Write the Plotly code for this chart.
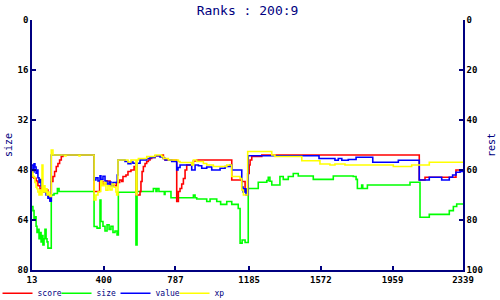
import plotly.graph_objects as go

# ---- data ----
x_ticks = [13, 400, 787, 1185, 1572, 1959, 2339]
size_ticks = [0, 16, 32, 48, 64, 80]
rest_ticks = [0, 20, 40, 60, 80, 100]

score_x = [13, 24, 35, 45, 56, 67, 78, 89, 99, 110, 117, 126, 135, 144, 153, 162, 171, 180,
           348, 378, 396, 412, 434, 456, 468, 486, 497, 504, 520, 531, 547, 564, 574, 596,
           601, 607, 614, 623, 632, 641, 650, 659, 677, 715, 722, 731, 794, 803, 812, 821,
           830, 839, 848, 875, 884, 902, 1091, 1145, 1163, 1172, 1177, 1185, 1190, 1199,
           1253, 2103, 2134, 2301, 2339]
score_y = [62.8, 63.3, 64.4, 66.3, 67.5, 67, 68.8, 68, 70.4, 72, 64.6, 62.6, 60.6, 58.6, 57.4, 56, 54.6, 54,
           68.6, 64.6, 65.6, 64.4, 66, 66.3, 65, 64, 64.6, 62.6, 62, 60.6, 60, 58.6, 70, 68.6,
           64.6, 60.6, 58.6, 57.4, 56.6, 56, 55.4, 55, 54.3, 54, 55.4, 56, 72.6, 68.6, 67.4, 65.6,
           63.4, 60, 58, 57.4, 56.4, 56, 64, 64.6, 68, 68.8, 61.4, 58, 56, 54.6,
           54, 64, 62.9, 60, 60]

size_x = [13, 18, 24, 29, 35, 40, 45, 51, 56, 62, 67, 72, 78, 83, 89, 94, 99, 117, 132, 150, 159,
          348, 364, 380, 385, 396, 407, 418, 429, 439, 450, 461, 472, 479, 574, 580, 668, 682,
          688, 698, 727, 731, 763, 884, 893, 902, 956, 974, 1010, 1031, 1064, 1091, 1126, 1136,
          1147, 1163, 1180, 1234, 1280, 1288, 1297, 1307, 1351, 1369, 1396, 1423, 1450, 1531,
          1639, 1747, 1762, 1769, 1792, 1798, 1823, 2053, 2107, 2157, 2265, 2287, 2305, 2339]
size_y = [59.7, 61, 64, 63, 66, 68, 67, 70, 68, 71, 69, 72, 70, 67, 70, 71, 73, 56, 55.5, 53.9, 54.9,
          66.1, 66.6, 57.6, 64.5, 66, 67.5, 65.5, 67, 66, 68, 67.5, 68.8, 55.1, 72, 54.9, 53.9, 54.9,
          53.9, 54.9, 55.8, 54.9, 56.9, 56, 56.9, 57.3, 58.1, 57.3, 58.1, 59, 58.1, 59, 60.3, 71.4,
          70.4, 71.2, 53.9, 51.9, 51.4, 50.3, 51.6, 52.8, 50.1, 51, 50.1, 49.1, 49.9, 51,
          49.9, 50.1, 51, 53.9, 52.8, 53.9, 52.8, 51.9, 63.1, 62.2, 61, 59.7, 58.9, 58.9]

value_x = [13, 18, 24, 29, 35, 40, 45, 51, 56, 62, 67, 72, 78, 83, 89, 94, 99, 105, 110, 117,
           348, 358, 369, 380, 385, 396, 407, 418, 429, 439, 450, 473, 477, 515, 531, 547, 558,
           574, 580, 596, 632, 650, 677, 704, 722, 731, 767, 794, 801, 812, 875, 893, 911, 929,
           956, 983, 1028, 1055, 1082, 1091, 1145, 1152, 1160, 1168, 1180, 1562, 1648, 1666,
           1685, 1720, 1762, 1852, 1990, 2103, 2157, 2224, 2265, 2283, 2301, 2323, 2339]
value_y = [58, 60.8, 57.5, 58.8, 61.3, 60, 63.1, 65, 63.8, 66.3, 67.5, 66.3, 68.8, 68, 70, 68.8, 71.3, 70.5, 72.5, 54,
           64, 63.1, 64.4, 62.3, 63.8, 62.5, 64.4, 65.6, 64.8, 66.3, 65, 62, 56, 56.6, 57.5, 56.8, 57.3,
           70, 57.3, 56, 55.4, 55, 54.3, 54.8, 55.4, 56, 56.6, 60, 59, 58, 60, 58, 58.3, 59.3,
           58.8, 60, 59.3, 58.6, 58, 60, 66.8, 68.8, 67.5, 70, 54.3, 55.4, 56.1, 55.4,
           56.1, 55.8, 54.9, 56.9, 56.1, 64, 62.9, 64, 62.9, 62, 60.9, 60.6, 60.6]

xp_x = [13, 18, 24, 29, 35, 40, 45, 51, 56, 62, 67, 72, 78, 83, 89, 94, 99, 105, 110, 117, 126,
        191, 196, 267, 272, 348, 358, 369, 375, 384, 391, 402, 412, 423, 434, 445, 456, 466,
        470, 477, 531, 547, 574, 580, 587, 632, 677, 713, 722, 749, 803, 812, 875, 884, 902,
        938, 956, 992, 1064, 1091, 1136, 1145, 1154, 1177, 1307, 1324, 1469, 1567, 1621, 1648,
        1702, 1963, 2062, 2157, 2339]
xp_y = [60.8, 62.5, 62.9, 65, 66.9, 67.5, 68.8, 70, 68.1, 70, 58, 68.8, 66.3, 68.8, 67.5, 70, 68.8, 70, 70.6, 52, 54,
        54.4, 54, 54.4, 54, 72, 70, 68.8, 68.6, 64.4, 66.3, 65, 68.1, 66.3, 68, 65.6, 66.9, 68.8,
        70, 56, 56.8, 56, 70, 56, 55.4, 54.6, 54, 54.6, 55.4, 56, 56.6, 57, 58, 56, 56.6,
        57.4, 58, 58.6, 58, 62.6, 63.4, 68, 70, 52.6, 54, 54.6, 56.3, 57.6, 58, 57.6,
        58, 58.6, 58, 56.9, 56.9]

NAVY = "#000080"
MONO = "DejaVu Sans Mono"

fig = go.Figure()
line_w = 1.6
fig.add_trace(go.Scatter(x=score_x, y=score_y, name="score", mode="lines", yaxis="y2",
                         line=dict(color="#ff0000", width=line_w, shape="hv")))
fig.add_trace(go.Scatter(x=size_x, y=size_y, name="size", mode="lines", yaxis="y",
                         line=dict(color="#00ff00", width=line_w, shape="hv")))
fig.add_trace(go.Scatter(x=value_x, y=value_y, name="value", mode="lines", yaxis="y2",
                         line=dict(color="#0000ff", width=line_w, shape="hv")))
fig.add_trace(go.Scatter(x=xp_x, y=xp_y, name="xp", mode="lines", yaxis="y2",
                         line=dict(color="#ffff00", width=line_w, shape="hv")))

tickfont = dict(family=MONO, size=9, color="black", weight="bold")
common = dict(showgrid=False, zeroline=False, showline=True, linecolor=NAVY, linewidth=1.5,
              ticks="inside", ticklen=4, tickcolor=NAVY, tickwidth=1.5, tickfont=tickfont,
              automargin=False)

fig.update_layout(
    width=500, height=300,
    margin=dict(l=32, r=37, t=20, b=30, autoexpand=False),
    paper_bgcolor="white", plot_bgcolor="white",
    title=dict(text="Ranks : 200:9", x=0.495, xanchor="center", y=0.965, yanchor="middle",
               font=dict(family=MONO, size=13, color=NAVY)),
    xaxis=dict(range=[13, 2339], tickvals=x_ticks, ticktext=[str(v) for v in x_ticks], **common),
    yaxis=dict(range=[80, 0], tickvals=size_ticks, title=dict(text="size", standoff=3,
               font=dict(family=MONO, size=10, color=NAVY)), **common),
    yaxis2=dict(range=[100, 0], tickvals=rest_ticks, overlaying="y", side="right", anchor="x",
                title=dict(text="rest", standoff=6, font=dict(family=MONO, size=10, color=NAVY)),
                **common),
    showlegend=True,
    legend=dict(orientation="h", x=-0.08, xanchor="left", y=-0.035, yanchor="top",
                font=dict(family=MONO, size=8, color=NAVY), bgcolor="rgba(0,0,0,0)",
                itemwidth=30, tracegroupgap=0, entrywidth=14, entrywidthmode="pixels"),
)

fig.write_html("out.html")
